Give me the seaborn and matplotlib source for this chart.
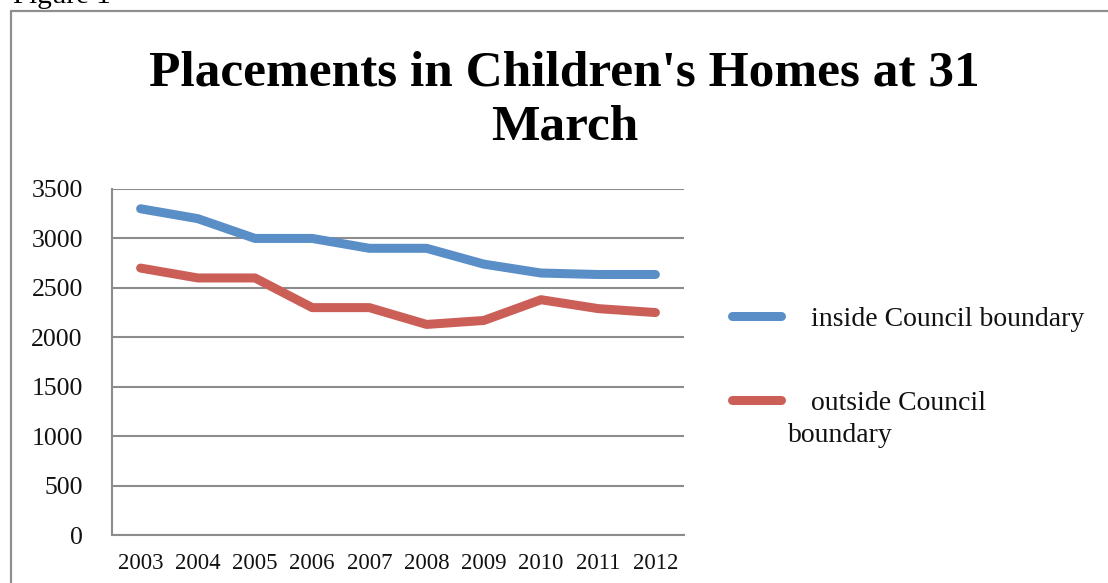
import matplotlib
matplotlib.use("Agg")
import matplotlib.pyplot as plt
from matplotlib.lines import Line2D
import seaborn as sns
import pandas as pd
import numpy as np

# Placements in children's homes, counted at 31 March each year
years = ["2003", "2004", "2005", "2006", "2007", "2008", "2009", "2010", "2011", "2012"]
inside_council = [3300, 3200, 3000, 3000, 2900, 2900, 2740, 2650, 2635, 2635]
outside_council = [2700, 2600, 2600, 2300, 2300, 2130, 2170, 2380, 2290, 2250]
series_names = ["inside Council boundary", "outside Council boundary"]
y_ticks = [0, 500, 1000, 1500, 2000, 2500, 3000, 3500]

sns.set_theme(style="white")
plt.rcParams["font.family"] = ["Liberation Serif", "DejaVu Serif"]

df = pd.DataFrame({
    "pos": list(range(len(years))) * 2,
    "value": inside_council + outside_council,
    "series": [series_names[0]] * len(years) + [series_names[1]] * len(years),
})

W, H = 1108, 583
LW = 6.5
fig = plt.figure(figsize=(W / 100, H / 100), dpi=100)
ax = fig.add_axes([112 / W, 1 - 535 / H, (684 - 112) / W, (535 - 189) / H])

palette = {series_names[0]: "#5A8EC7", series_names[1]: "#CB5F57"}
sns.lineplot(data=df, x="pos", y="value", hue="series", palette=palette,
             linewidth=LW, ax=ax, legend=False, sort=False,
             solid_capstyle="round", solid_joinstyle="round")

grid_c = "#8C8C8C"
ax.set_xlim(-0.5, len(years) - 0.5)
ax.set_ylim(0, 3500)
ax.set_yticks(y_ticks)
ax.set_yticklabels([str(t) for t in y_ticks], fontsize=18.5, color="#111111")
ax.set_xticks(range(len(years)))
ax.set_xticklabels(years, fontsize=16.5, color="#111111")
ax.set_xticks(np.arange(-0.5, len(years)), minor=True)
ax.tick_params(axis="x", which="major", length=0, pad=13)
ax.tick_params(axis="x", which="minor", length=6, width=1.2, color=grid_c)
ax.tick_params(axis="y", which="major", length=7, width=1.2, color=grid_c, pad=14)
ax.set_xlabel("")
ax.set_ylabel("")
ax.yaxis.grid(True, color=grid_c, linewidth=1.5)
ax.set_axisbelow(True)
for side in ["top", "right"]:
    ax.spines[side].set_visible(False)
for side in ["left", "bottom"]:
    ax.spines[side].set_color(grid_c)
    ax.spines[side].set_linewidth(1.5)

# Title
title_kw = dict(ha="center", va="baseline", fontsize=37, fontweight="bold", color="black")
fig.text(564 / W, 1 - 85 / H, "Placements in Children's Homes at 31", **title_kw)
fig.text(565 / W, 1 - 139 / H, "March", **title_kw)

# Legend: key line followed by its wrapped label
legend_kw = dict(ha="left", va="center", fontsize=20, color="#111111")
for name, y_key in zip(series_names, [316, 400]):
    fig.add_artist(Line2D([732 / W, 781 / W], [1 - y_key / H, 1 - y_key / H],
                          color=palette[name], linewidth=LW,
                          solid_capstyle="round", transform=fig.transFigure))
fig.text(811 / W, 1 - 320 / H, "inside Council boundary", **legend_kw)
fig.text(811 / W, 1 - 403 / H, "outside Council", **legend_kw)
fig.text(788 / W, 1 - 435 / H, "boundary", **legend_kw)

# Caption above the chart frame and the frame itself
fig.text(13 / W, 1 - 3 / H, "Figure 1", ha="left", va="baseline",
         fontsize=21, color="black")
frame_c = "#8F8F8F"
fig.add_artist(Line2D([10.5 / W, 10.5 / W], [0, 1 - 10.5 / H],
                      color=frame_c, linewidth=1.6, transform=fig.transFigure))
fig.add_artist(Line2D([10.5 / W, 1], [1 - 10.5 / H, 1 - 10.5 / H],
                      color=frame_c, linewidth=1.6, transform=fig.transFigure))

fig.savefig("out.png", dpi=100)
